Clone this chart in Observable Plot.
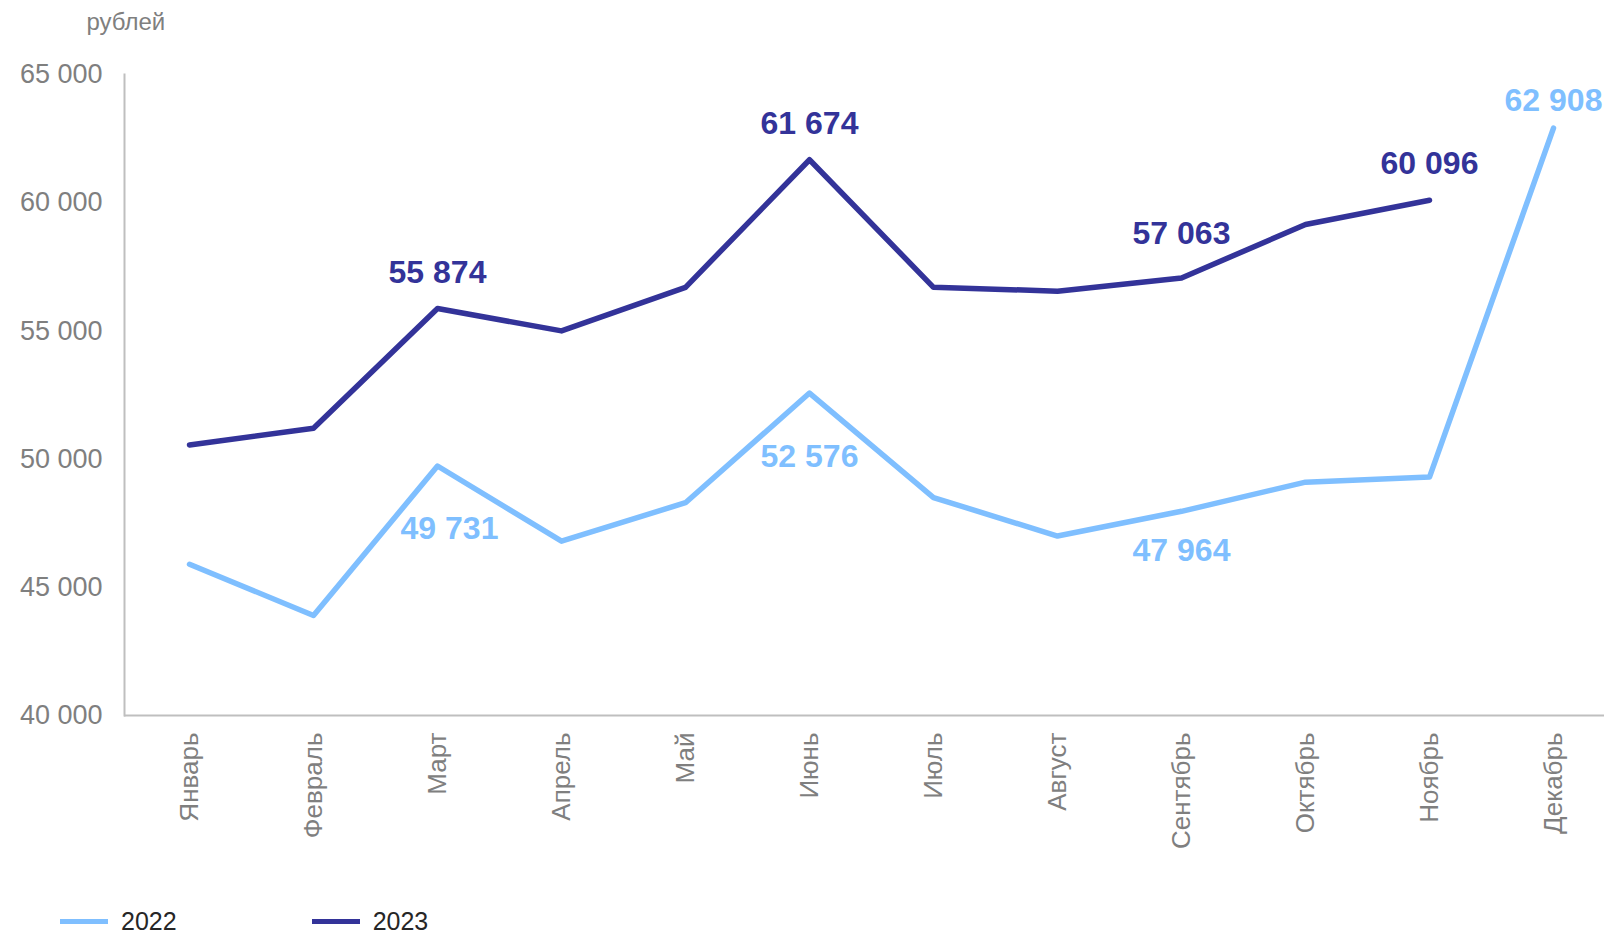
<!DOCTYPE html>
<html><head><meta charset="utf-8">
<script src="https://cdn.jsdelivr.net/npm/d3@7"></script>
<script src="https://cdn.jsdelivr.net/npm/@observablehq/plot@0.6"></script>
<style>
body{margin:0;background:#fff;font-family:"Liberation Sans",Arial,sans-serif;overflow:hidden;}
#chart svg{display:block;}
#legend{display:flex;align-items:center;height:32px;font-size:25px;line-height:1;color:#262626;}
.sw{height:5px;}
</style></head><body>
<div id="chart"></div>
<div id="legend"></div>
<script>
const months = ["Январь","Февраль","Март","Апрель","Май","Июнь","Июль","Август","Сентябрь","Октябрь","Ноябрь","Декабрь"];
const values2022 = [45900, 43900, 49731, 46800, 48300, 52576, 48500, 47000, 47964, 49100, 49300, 62908];
const values2023 = [50550, 51200, 55874, 55000, 56700, 61674, 56700, 56550, 57063, 59150, 60096, null];
const yTicks = [40000, 45000, 50000, 55000, 60000, 65000];
const seriesNames = ["2022", "2023"];
const seriesColors = ["#7FBFFF", "#333399"];
const unitLabel = "рублей";
const labelled2022Above = ["Декабрь"];
const labelled2022BelowRight = ["Март"];
const labelled2022Below = ["Июнь"];
const labelled2022BelowNear = ["Сентябрь"];
const labelled2023 = ["Март", "Июнь", "Ноябрь"];
const labelled2023High = ["Сентябрь"];

const fmt = v => d3.format(",")(v).replace(/,/g, " ");
const data = [];
months.forEach((m, i) => {
  data.push({month: m, year: seriesNames[0], value: values2022[i]});
  if (values2023[i] != null) data.push({month: m, year: seriesNames[1], value: values2023[i]});
});
const d22 = data.filter(d => d.year === seriesNames[0]);
const d23 = data.filter(d => d.year === seriesNames[1]);
const lab = {x: "month", y: "value", text: d => fmt(d.value), fontSize: 32, fontWeight: "bold"};

const chart = Plot.plot({
  width: 1604, height: 905,
  marginLeft: 124, marginRight: 0, marginTop: 74, marginBottom: 190,
  style: {fontFamily: '"Liberation Sans", Arial, sans-serif', background: "#fff"},
  x: {type: "point", domain: months, padding: 0, insetLeft: 62, insetRight: 49},
  y: {domain: [40000, 65000]},
  color: {domain: seriesNames, range: seriesColors},
  marks: [
    Plot.frame({anchor: "left", stroke: "#bfbfbf", strokeWidth: 2}),
    Plot.ruleY([40000], {stroke: "#bfbfbf", strokeWidth: 2}),
    Plot.axisY({ticks: yTicks, tickFormat: fmt, tickSize: 0, tickPadding: 22, fontSize: 27, fill: "#7f7f7f", label: null}),
    Plot.axisX({tickSize: 0, tickRotate: -90, tickPadding: 17, fontSize: 26, fill: "#7f7f7f", label: null}),
    Plot.text([unitLabel], {frameAnchor: "top-left", dx: -38, dy: -52.5, textAnchor: "start", lineAnchor: "middle", fontSize: 24, fill: "#7f7f7f"}),
    Plot.line(data, {x: "month", y: "value", z: "year", stroke: "year", strokeWidth: 5.5, strokeLinecap: "round", strokeLinejoin: "round"}),
    Plot.text(d23.filter(d => labelled2023.includes(d.month)), {...lab, fill: seriesColors[1], dy: -36}),
    Plot.text(d23.filter(d => labelled2023High.includes(d.month)), {...lab, fill: seriesColors[1], dy: -44}),
    Plot.text(d22.filter(d => labelled2022Above.includes(d.month)), {...lab, fill: seriesColors[0], dy: -27}),
    Plot.text(d22.filter(d => labelled2022BelowRight.includes(d.month)), {...lab, fill: seriesColors[0], dy: 63, dx: 12}),
    Plot.text(d22.filter(d => labelled2022Below.includes(d.month)), {...lab, fill: seriesColors[0], dy: 64}),
    Plot.text(d22.filter(d => labelled2022BelowNear.includes(d.month)), {...lab, fill: seriesColors[0], dy: 39})
  ]
});
document.getElementById("chart").appendChild(chart);

const legend = document.getElementById("legend");
const gaps = [60, 135];
seriesNames.forEach((name, i) => {
  const sw = document.createElement("div");
  sw.className = "sw";
  sw.style.width = "48px";
  sw.style.marginLeft = gaps[i] + "px";
  sw.style.background = seriesColors[i];
  const t = document.createElement("span");
  t.textContent = name;
  t.style.marginLeft = "13px";
  legend.appendChild(sw);
  legend.appendChild(t);
});
</script>
</body></html>
